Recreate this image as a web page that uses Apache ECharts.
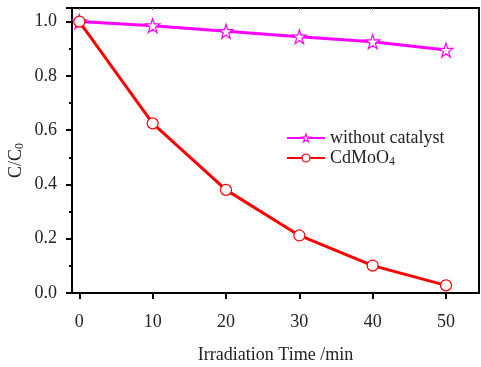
<!DOCTYPE html>
<html>
<head>
<meta charset="utf-8">
<script src="https://cdn.jsdelivr.net/npm/echarts@6/dist/echarts.min.js"></script>
<style>
    html, body { margin: 0; padding: 0; background: #fff; }
    #chart { width: 481px; height: 367px; }
</style>
</head>
<body>
<div id="chart"></div>
<script>
// 光照时间 (min)
var times = [0, 10, 20, 30, 40, 50];
// 无催化剂
var withoutCatalyst = [1.0, 0.985, 0.964, 0.944, 0.926, 0.895];
// CdMoO4
var cdmoo4 = [1.0, 0.625, 0.380, 0.212, 0.101, 0.028];

var serif = '"Liberation Serif", "DejaVu Serif", serif';
var starPath = 'path://M50,2 L61,36 L97,36 L68,57 L79,92 L50,71 L21,92 L32,57 L3,36 L39,36 Z';

function pairs(ys) {
    return times.map(function (t, i) { return [t, ys[i]]; });
}

var chart = echarts.init(document.getElementById('chart'));

var option = {
    animation: false,
    grid: { left: 72, right: 2, top: 8, bottom: 74, containLabel: false, outerBoundsMode: 'none' },
    legend: {
        left: 286,
        top: 129,
        padding: 0,
        orient: 'vertical',
        itemWidth: 38,
        itemHeight: 10,
        itemGap: 2,
        textStyle: {
            fontFamily: serif,
            fontSize: 18,
            color: '#222',
            rich: {
                sub: { fontFamily: serif, fontSize: 12, verticalAlign: 'bottom', padding: [7, 0, 0, 0], color: '#222' }
            }
        },
        formatter: function (name) {
            if (name == 'CdMoO4') return 'CdMoO{sub|4}';
            return name;
        },
        data: [{
            name: 'without catalyst',
            itemStyle: { color: '#ffffff', borderColor: '#ff00ff', borderWidth: 1.2 }
        }, {
            name: 'CdMoO4',
            itemStyle: { color: '#ffffff', borderColor: '#ff0000', borderWidth: 1.2 }
        }]
    },
    xAxis: [{
        type: 'value',
        min: -1,
        max: 54.5,
        interval: 10,
        name: 'Irradiation Time /min',
        nameLocation: 'middle',
        nameGap: 53,
        nameTextStyle: { fontFamily: serif, fontSize: 18, color: '#222' },
        axisLine: { onZero: false, lineStyle: { color: '#000', width: 2 } },
        axisTick: { show: true, length: 6, lineStyle: { color: '#000', width: 2 }, customValues: times },
        axisLabel: { fontFamily: serif, fontSize: 18, color: '#222', margin: 20, customValues: times },
        splitLine: { show: false }
    }, {
        type: 'value',
        position: 'top',
        min: -1,
        max: 54.5,
        axisLine: { show: true, onZero: false, lineStyle: { color: '#000', width: 2 } },
        axisTick: { show: true, inside: true, length: 2, lineStyle: { color: '#666', width: 1 }, customValues: times },
        axisLabel: { show: false },
        splitLine: { show: false }
    }],
    yAxis: [{
        type: 'value',
        min: 0,
        max: 1.05,
        interval: 0.2,
        name: 'C/C{sub|0}',
        nameLocation: 'middle',
        nameGap: 46,
        nameMoveOverlap: false,
        nameRotate: 90,
        nameTextStyle: {
            fontFamily: serif,
            fontSize: 18,
            color: '#222',
            padding: [0, 20, 0, 0],
            rich: {
                sub: { fontFamily: serif, fontSize: 12, verticalAlign: 'bottom', padding: [7, 0, 0, 0], color: '#222' }
            }
        },
        axisLine: { show: true, onZero: false, lineStyle: { color: '#000', width: 2 } },
        axisTick: { show: true, length: 6, lineStyle: { color: '#000', width: 2 } },
        minorTick: { show: true, splitNumber: 2, length: 3, lineStyle: { color: '#000', width: 2 } },
        axisLabel: {
            fontFamily: serif, fontSize: 18, color: '#222', margin: 15,
            formatter: function (v) { return v.toFixed(1); }
        },
        splitLine: { show: false }
    }, {
        type: 'value',
        position: 'right',
        min: 0,
        max: 1.05,
        axisLine: { show: true, onZero: false, lineStyle: { color: '#000', width: 2 } },
        axisTick: { show: false },
        axisLabel: { show: false },
        splitLine: { show: false }
    }],
    series: [{
        name: 'without catalyst',
        type: 'line',
        data: pairs(withoutCatalyst),
        symbol: starPath,
        symbolSize: 14,
        lineStyle: { color: '#ff00ff', width: 3 },
        itemStyle: { color: '#ffffff', borderColor: '#ff00ff', borderWidth: 1.2 },
        z: 3
    }, {
        name: 'CdMoO4',
        type: 'line',
        data: pairs(cdmoo4),
        symbol: 'circle',
        symbolSize: 11,
        lineStyle: { color: '#ff0000', width: 3 },
        itemStyle: { color: '#ffffff', borderColor: '#ff0000', borderWidth: 1.2 },
        z: 4
    }]
};

chart.setOption(option);
</script>
</body>
</html>
